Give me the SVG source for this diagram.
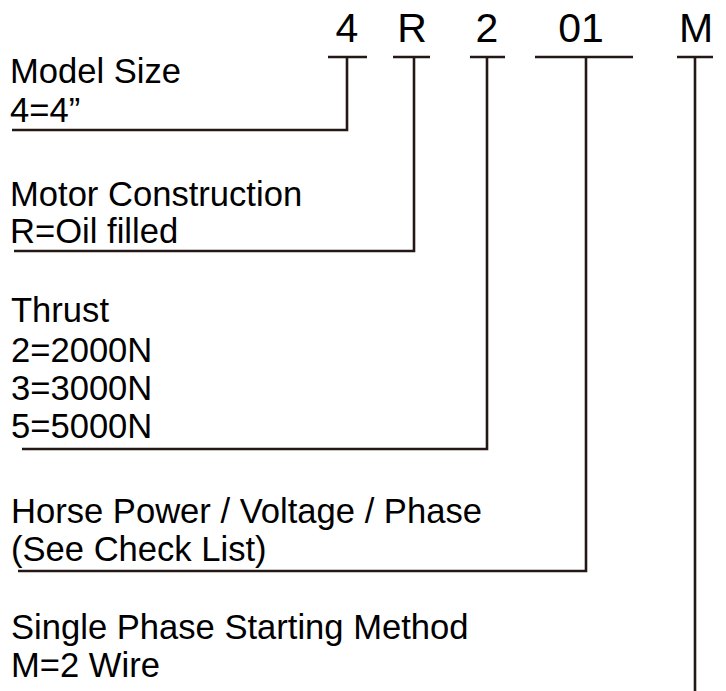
<svg xmlns="http://www.w3.org/2000/svg" width="726" height="691" viewBox="0 0 726 691">
<style>
text{font-family:"Liberation Sans",Arial,sans-serif;fill:#000}
.lbl{font-size:34.6px}
.hdr{font-size:41px;text-anchor:middle}
.ln{fill:none;stroke:#231815;stroke-width:2.6}
</style>
<rect width="726" height="691" fill="#fff"/>
<g id="header">
<text class="hdr" x="347" y="42">4</text>
<text class="hdr" x="412" y="42">R</text>
<text class="hdr" x="487" y="42">2</text>
<text class="hdr" x="581" y="42">01</text>
<text class="hdr" x="696" y="42">M</text>
</g>
<g id="model-size">
<text class="lbl" x="10" y="83">Model Size</text>
<text class="lbl" x="10" y="122">4=4”</text>
</g>
<g id="motor-construction">
<text class="lbl" x="10" y="206">Motor Construction</text>
<text class="lbl" x="10" y="243">R=Oil filled</text>
</g>
<g id="thrust">
<text class="lbl" x="11" y="322">Thrust</text>
<text class="lbl" x="11" y="362">2=2000N</text>
<text class="lbl" x="11" y="400">3=3000N</text>
<text class="lbl" x="11" y="438">5=5000N</text>
</g>
<g id="horse-power">
<text class="lbl" x="11" y="523">Horse Power / Voltage / Phase</text>
<text class="lbl" x="11" y="561">(See Check List)</text>
</g>
<g id="starting-method">
<text class="lbl" x="11" y="639">Single Phase Starting Method</text>
<text class="lbl" x="11" y="677">M=2 Wire</text>
</g>
<g id="connectors">
<path class="ln" d="M328 57H367M347 57V130H12"/>
<path class="ln" d="M393 57H430M414 57V251H14"/>
<path class="ln" d="M470 57H505M487 57V449H22"/>
<path class="ln" d="M535 57H633M586 57V571H18"/>
<path class="ln" d="M677 57H713M695 57V691"/>
</g>
</svg>
